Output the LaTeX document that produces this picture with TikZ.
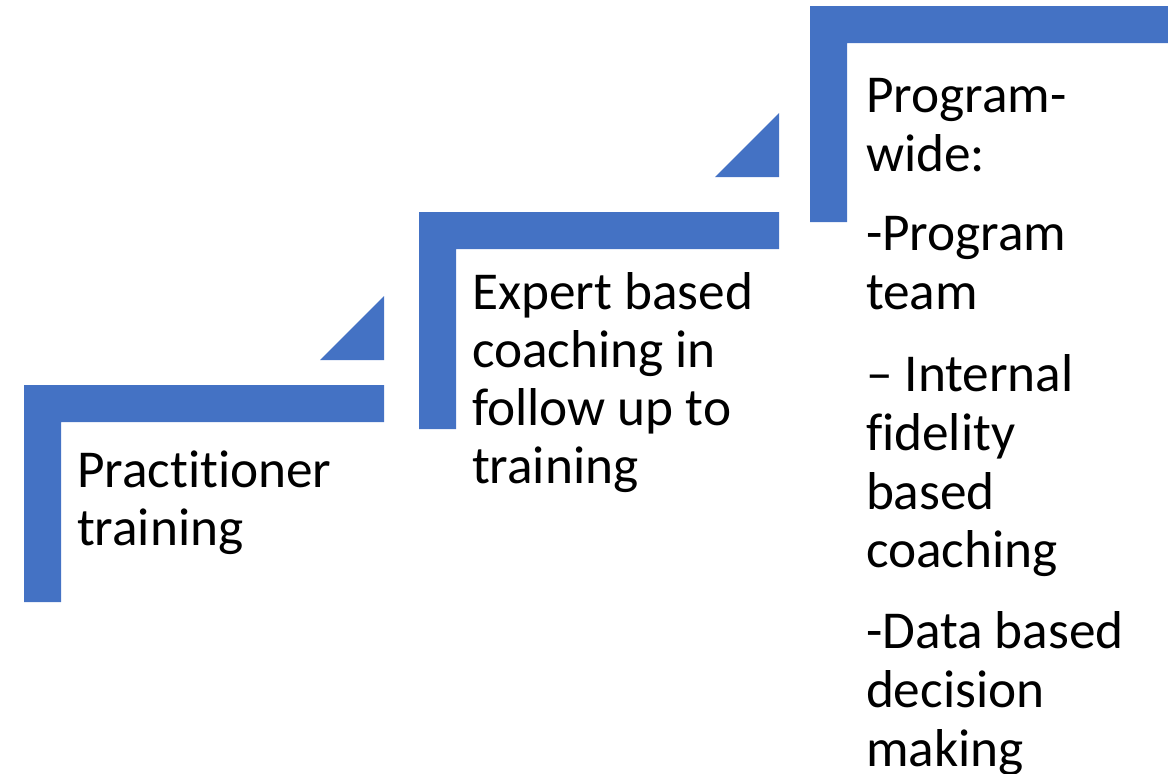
\documentclass[tikz,border=0pt]{standalone}
\usepackage{fontspec}
\setmainfont{Carlito}[Ligatures={NoCommon,NoRequired,NoContextual,NoRare}]
\definecolor{stepblue}{HTML}{4472C4}
\begin{document}
\begin{tikzpicture}[x=1pt,y=-1pt,
  bar/.style={fill=stepblue, draw=none},
  txt/.style={anchor=base west, inner sep=0pt, outer sep=0pt, font=\fontsize{53.3}{58.5}\selectfont, text=black}]
\useasboundingbox (0,0) rectangle (1168,774);
\clip (0,0) rectangle (1168,774);
% step 1
\fill[bar] (24,385) -- (384,385) -- (384,422) -- (61,422) -- (61,602) -- (24,602) -- cycle;
\fill[bar] (320,360) -- (384,360) -- (384,296) -- cycle;
% step 2
\fill[bar] (419,212) -- (779,212) -- (779,249) -- (456,249) -- (456,429) -- (419,429) -- cycle;
\fill[bar] (715,177) -- (779,177) -- (779,113) -- cycle;
% step 3
\fill[bar] (810,6) -- (1168,6) -- (1168,43) -- (847,43) -- (847,222) -- (810,222) -- cycle;
% texts column 1
\node[txt] (a1) at (77,487) {Practitioner};
\node[txt] (a2) at (77,545.5) {training};
% column 2
\node[txt] (b1) at (472,309) {Expert based};
\node[txt] (b2) at (472,367) {coaching in};
\node[txt] (b3) at (472,425) {follow up to};
\node[txt] (b4) at (472,483.5) {training};
% column 3
\node[txt] (c1) at (866,112) {Program-};
\node[txt] (c2) at (866,171) {wide:};
\node[txt] (c3) at (866,250) {-Program};
\node[txt] (c4) at (866,309.5) {team};
\node[txt] (c5) at (866,391.5) {– Internal};
\node[txt] (c6) at (866,450) {fidelity};
\node[txt] (c7) at (866,509) {based};
\node[txt] (c8) at (866,567) {coaching};
\node[txt] (c9) at (866,648) {-Data based};
\node[txt] (c10) at (866,707.5) {decision};
\node[txt] (c11) at (866,766.5) {making};
\end{tikzpicture}
\end{document}
